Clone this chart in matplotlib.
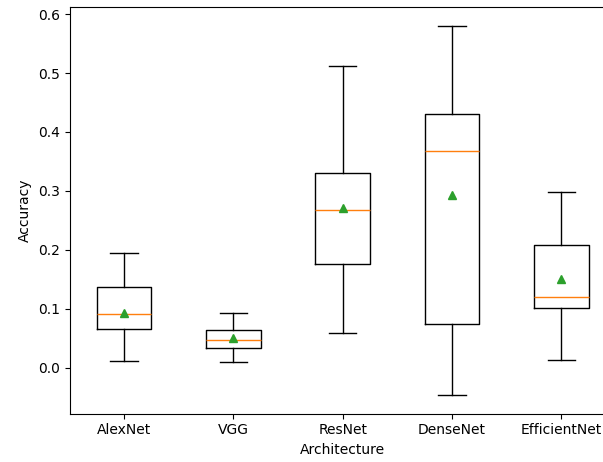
import matplotlib
matplotlib.use('Agg')
import matplotlib.pyplot as plt

labels = ['AlexNet', 'VGG', 'ResNet', 'DenseNet', 'EfficientNet']
whislo = [0.011, 0.010, 0.059, -0.047, 0.0125]
q1     = [0.065, 0.034, 0.175, 0.074, 0.1005]
med    = [0.091, 0.046, 0.268, 0.367, 0.119]
q3     = [0.137, 0.064, 0.331, 0.431, 0.208]
whishi = [0.194, 0.093, 0.512, 0.580, 0.298]
means  = [0.093, 0.051, 0.271, 0.293, 0.151]

stats = [dict(label=l, whislo=a, q1=b, med=c, q3=d, whishi=e, mean=m, fliers=[])
         for l, a, b, c, d, e, m in zip(labels, whislo, q1, med, q3, whishi, means)]

fig = plt.figure(figsize=(6.03, 4.62), dpi=100)
# axes run past the right edge, as in the reference crop
ax = fig.add_axes([69.5/603, (462-413.7)/462, (616-69.5)/603, (413.7-7.5)/462])
ax.bxp(stats, showmeans=True)
ax.set_xlabel('Architecture')
ax.set_ylabel('Accuracy')
fig.savefig('out.png', dpi=100)
